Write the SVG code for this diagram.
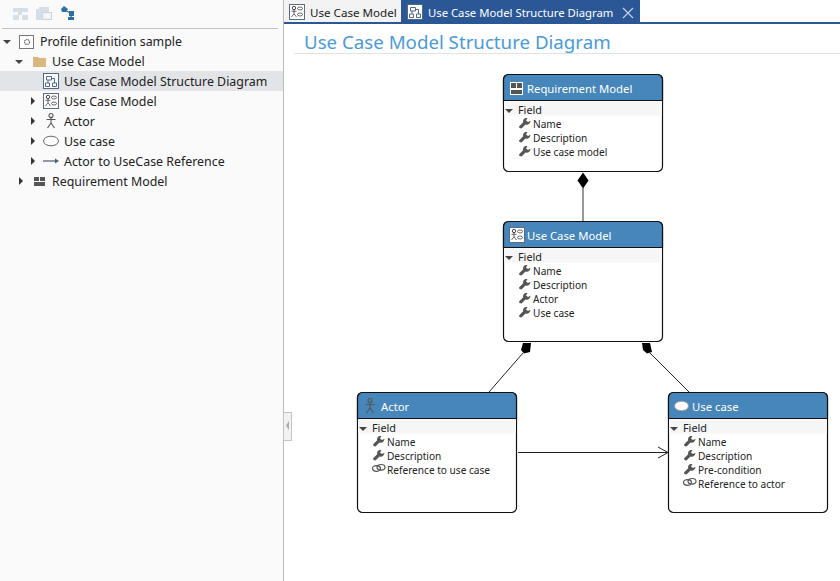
<svg xmlns="http://www.w3.org/2000/svg" xmlns:xlink="http://www.w3.org/1999/xlink" width="840" height="581" viewBox="0 0 840 581">
<style>
text{font-family:"Noto Sans","Open Sans","Liberation Sans",sans-serif;font-size:10.1px;fill:#222}
.tree{font-size:12.4px}
.tab{font-size:11.6px}
.tabon{font-size:11.3px;fill:#fff}
.fld{font-size:10.8px}
.hd{font-size:11.3px;fill:#fff}
.box{fill:#fff;stroke:#111;stroke-width:1.2}
.head{fill:#4686ba;stroke:#111;stroke-width:1.2}
.fieldbar{fill:#f6f6f6}
.conn{fill:none;stroke:#222;stroke-width:1}
</style>
<defs>
<path id="down" d="M0 0h8l-4 4z" fill="#444"/>
<path id="right" d="M0 0l4 4l-4 4z" fill="#333"/>
<path id="wrench" d="M0 8.500l.5 1.500 2 .5 4-4c2.500 .8 5-1 5-3.800l-2.500 1.300-2-1.500 1.500-2.500c-3-.5-5 1.500-4.300 4.300z" fill="#555"/>
<g id="link" fill="none" stroke="#555" stroke-width="1.200"><ellipse cx="4.500" cy="4.500" rx="4" ry="2.800"/><ellipse cx="9" cy="3.300" rx="4" ry="2.800"/></g>
<g id="ucm"><rect x=".5" y=".5" width="15" height="15" fill="#fff" stroke="#5c6b80"/><circle cx="5" cy="4" r="1.700" fill="none" stroke="#444"/><path d="M5 5.700v4M2.500 7.300h5M5 9.700l-2.500 3.300M5 9.700l2.500 3.300" fill="none" stroke="#444" stroke-width=".8"/><ellipse cx="11" cy="4.500" rx="2.500" ry="1.500" fill="none" stroke="#444" stroke-width=".8"/><ellipse cx="11" cy="10.500" rx="2.500" ry="1.500" fill="none" stroke="#444" stroke-width=".8"/></g>
<g id="sd"><rect x=".5" y=".5" width="15" height="15" fill="#fff" stroke="#4d6a8e"/><path d="M3.500 3.500h5v3.500h-5zM2.500 10h4v3.500h-4zM9.500 10h4v3.500h-4zM5 7v3M11.500 10v-4.500h-3" fill="none" stroke="#4d6a8e"/></g>
<g id="actor" fill="none" stroke="#555" stroke-width="1.100"><circle cx="5" cy="2.500" r="2"/><path d="M5 4.500v5.500M.5 6.500h9M5 10l-3.500 5M5 10l3.500 5"/></g>
</defs>

<rect width="840" height="581" fill="#fff"/>
<rect x="0" y="0" width="284" height="581" fill="#fafafa"/>
<rect x="283" y="0" width="1" height="581" fill="#bbb"/>

<g id="toolbar">
<path d="M13 8h15v4h-6v3h6v5h-6v-5h-3v5h-6v-5h5v-3h-5z" fill="#d5dfe8"/>
<path d="M36 9h3v-2h10v5h3v8H36z" fill="#d5dfe8"/>
<rect x="42.500" y="12.500" width="9" height="7" fill="#f2f5f8" stroke="#c8d3dd"/>
<path d="M61 9l3-3 4 3-2 3h-4zM69 11h5v5h-5zM68 17h6v3h-6z" fill="#2d6ea8"/>
<path d="M65 10l5 3M71 14v4" stroke="#2d6ea8" stroke-width="1.300" fill="none"/>
<rect x="2" y="28" width="276" height="1" fill="#c4c4c4"/>
</g>

<g id="tree">
<rect x="0" y="71" width="283" height="20" fill="#e3e4e8"/>
<use xlink:href="#down" href="#down" x="3" y="40"/>
<rect x="19.500" y="35.500" width="14" height="13" fill="#fff" stroke="#777"/>
<circle cx="27" cy="42" r="2.500" fill="none" stroke="#666" stroke-width="1.200" stroke-dasharray="1.500 .6"/>
<text class="tree" x="40" y="46">Profile definition sample</text>
<use xlink:href="#down" href="#down" x="15" y="60"/>
<path d="M33 57h5l1 1h7v9H33z" fill="#d9b77e"/>
<text class="tree" x="52" y="66">Use Case Model</text>
<use xlink:href="#sd" href="#sd" x="43" y="73"/>
<text class="tree" x="64" y="86">Use Case Model Structure Diagram</text>
<use xlink:href="#right" href="#right" x="31" y="97"/>
<use xlink:href="#ucm" href="#ucm" x="43" y="93"/>
<text class="tree" x="64" y="106">Use Case Model</text>
<use xlink:href="#right" href="#right" x="31" y="117"/>
<use xlink:href="#actor" href="#actor" x="46" y="113"/>
<text class="tree" x="64" y="126">Actor</text>
<use xlink:href="#right" href="#right" x="31" y="137"/>
<ellipse cx="51" cy="141" rx="7.500" ry="4.800" fill="#fff" stroke="#666"/>
<text class="tree" x="64" y="146">Use case</text>
<use xlink:href="#right" href="#right" x="31" y="157"/>
<path d="M43 161h14" stroke="#4d5b70" stroke-width="1.200"/><path d="M55 158.500l4 2.500-4 2.500z" fill="#4d5b70"/>
<text class="tree" x="64" y="166">Actor to UseCase Reference</text>
<use xlink:href="#right" href="#right" x="19" y="177"/>
<path d="M34 177h5v4h-5zM40 177h5v4h-5zM34 182h11v4H34z" fill="#555"/>
<text class="tree" x="52" y="186">Requirement Model</text>
</g>

<g id="splitter">
<rect x="283.500" y="412.500" width="8" height="28" fill="#f2f2f2" stroke="#c4c4c4"/>
<path d="M289 421v9l-3-4.500z" fill="#aaa"/>
</g>

<g id="tabs">
<rect x="284" y="0" width="117" height="22" fill="#f3f3f3"/>
<rect x="401" y="0" width="239" height="22" fill="#2b5797"/>
<rect x="284" y="22" width="556" height="2" fill="#2b5797"/>
<use xlink:href="#ucm" href="#ucm" x="289" y="4"/>
<text class="tab" x="310" y="17">Use Case Model</text>
<use xlink:href="#sd" href="#sd" x="407" y="4"/>
<text class="tabon" x="428" y="17">Use Case Model Structure Diagram</text>
<path d="M623 8l10 10M633 8l-10 10" stroke="#c9d6e8" stroke-width="1.100" fill="none"/>
</g>

<g id="title">
<text x="304" y="49" style="font-size:18.700px;fill:#4a9ad8">Use Case Model Structure Diagram</text>
<rect x="294" y="53" width="546" height="1" fill="#e2e2e2"/>
</g>

<g id="connectors">
<path class="conn" d="M583 188V221" style="stroke:#777;stroke-width:1.500"/>
<path d="M583 172.500l5.500 8-5.500 8-5.500-8z" fill="#000"/>
<path class="conn" d="M489 392L523 353"/>
<path d="M523 343h8l-1 9-6 1.500-3-3.500z" fill="#000"/>
<path class="conn" d="M689 392L650 353"/>
<path d="M642 343h8l2 9-5 1.500-4-3.500z" fill="#000"/>
<path class="conn" d="M518 452.500H667"/>
<path class="conn" d="M658 447l10 5.500-10 5.500"/>
</g>

<g id="node-requirement-model">
<rect class="box" x="503.500" y="74.500" width="159" height="97" rx="5"/>
<path class="head" d="M503.500 100.500v-21a5 5 0 0 1 5-5h149a5 5 0 0 1 5 5v21z"/>
<rect class="fieldbar" x="504" y="101.500" width="158" height="14"/>
<rect x="510" y="82" width="13" height="13" fill="#fff"/><path d="M511 83h5v5h-5zM517 83h5v5h-5zM511 90h11v4h-11z" fill="#555"/>
<text class="hd" x="527" y="93">Requirement Model</text>
<use xlink:href="#down" href="#down" x="505" y="109"/>
<text class="fld" x="518" y="114">Field</text>
<use xlink:href="#wrench" href="#wrench" x="519" y="118"/><text x="533" y="128">Name</text>
<use xlink:href="#wrench" href="#wrench" x="519" y="132"/><text x="533" y="142">Description</text>
<use xlink:href="#wrench" href="#wrench" x="519" y="146"/><text x="533" y="156">Use case model</text>
</g>

<g id="node-use-case-model">
<rect class="box" x="503.500" y="221.500" width="159" height="120" rx="5"/>
<path class="head" d="M503.500 247.500v-21a5 5 0 0 1 5-5h149a5 5 0 0 1 5 5v21z"/>
<rect class="fieldbar" x="504" y="248.500" width="158" height="14"/>
<use xlink:href="#ucm" href="#ucm" x="509" y="227"/>
<text class="hd" x="527" y="240">Use Case Model</text>
<use xlink:href="#down" href="#down" x="505" y="256"/>
<text class="fld" x="518" y="261">Field</text>
<use xlink:href="#wrench" href="#wrench" x="519" y="265"/><text x="533" y="275">Name</text>
<use xlink:href="#wrench" href="#wrench" x="519" y="279"/><text x="533" y="289">Description</text>
<use xlink:href="#wrench" href="#wrench" x="519" y="293"/><text x="533" y="303">Actor</text>
<use xlink:href="#wrench" href="#wrench" x="519" y="307"/><text x="533" y="317">Use case</text>
</g>

<g id="node-actor">
<rect class="box" x="357.500" y="392.500" width="159" height="120" rx="5"/>
<path class="head" d="M357.500 418.500v-21a5 5 0 0 1 5-5h149a5 5 0 0 1 5 5v21z"/>
<rect class="fieldbar" x="358" y="419.500" width="158" height="14"/>
<use xlink:href="#actor" href="#actor" x="365" y="398"/>
<text class="hd" x="381" y="411">Actor</text>
<use xlink:href="#down" href="#down" x="359" y="427"/>
<text class="fld" x="372" y="432">Field</text>
<use xlink:href="#wrench" href="#wrench" x="373" y="436"/><text x="387" y="446">Name</text>
<use xlink:href="#wrench" href="#wrench" x="373" y="450"/><text x="387" y="460">Description</text>
<use xlink:href="#link" href="#link" x="372" y="464"/><text x="387" y="474">Reference to use case</text>
</g>

<g id="node-use-case">
<rect class="box" x="668.500" y="392.500" width="159" height="120" rx="5"/>
<path class="head" d="M668.500 418.500v-21a5 5 0 0 1 5-5h149a5 5 0 0 1 5 5v21z"/>
<rect class="fieldbar" x="669" y="419.500" width="158" height="14"/>
<ellipse cx="681.500" cy="406" rx="7" ry="4.800" fill="#fff" stroke="#999"/>
<text class="hd" x="692" y="411">Use case</text>
<use xlink:href="#down" href="#down" x="670" y="427"/>
<text class="fld" x="683" y="432">Field</text>
<use xlink:href="#wrench" href="#wrench" x="684" y="436"/><text x="698" y="446">Name</text>
<use xlink:href="#wrench" href="#wrench" x="684" y="450"/><text x="698" y="460">Description</text>
<use xlink:href="#wrench" href="#wrench" x="684" y="464"/><text x="698" y="474">Pre-condition</text>
<use xlink:href="#link" href="#link" x="683" y="478"/><text x="698" y="488">Reference to actor</text>
</g>
</svg>
